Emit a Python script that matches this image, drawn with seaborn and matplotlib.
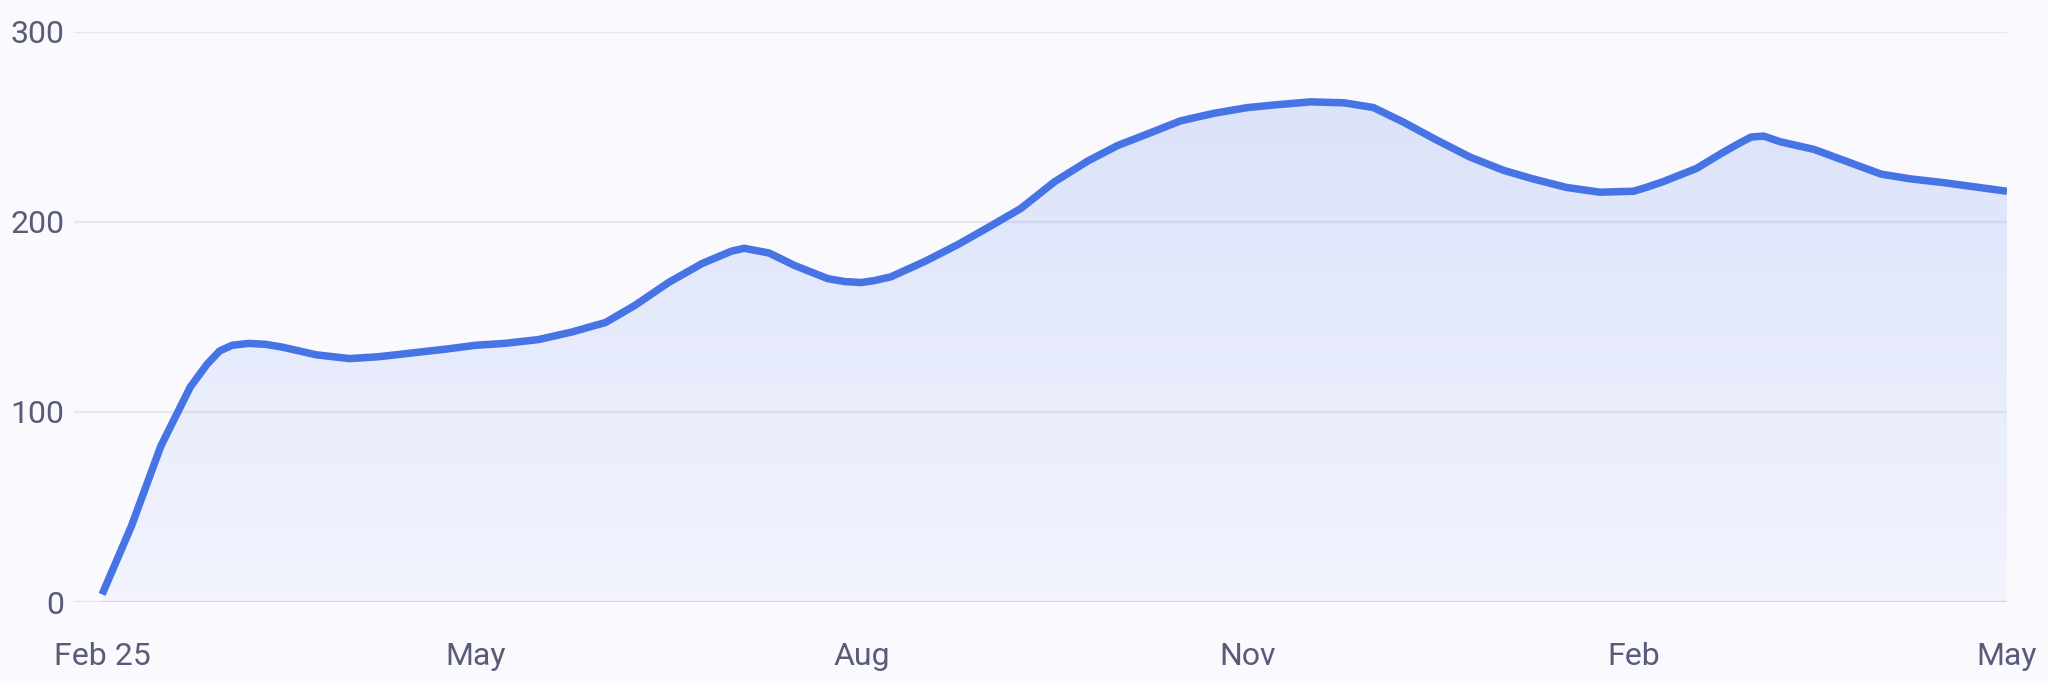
import numpy as np
import pandas as pd
import seaborn as sns
import matplotlib.pyplot as plt
import matplotlib.dates as mdates
from matplotlib.colors import LinearSegmentedColormap

# values
dates = [
    "2025-02-01", "2025-02-08", "2025-02-15", "2025-02-22", "2025-02-26", "2025-03-01",
    "2025-03-04", "2025-03-08", "2025-03-12", "2025-03-16", "2025-03-24", "2025-04-01",
    "2025-04-08", "2025-04-16", "2025-04-24", "2025-05-01", "2025-05-08", "2025-05-16",
    "2025-05-24", "2025-06-01", "2025-06-08", "2025-06-16", "2025-06-24",
    "2025-07-01", "2025-07-04", "2025-07-10", "2025-07-16", "2025-07-24", "2025-07-28",
    "2025-08-01", "2025-08-04", "2025-08-08", "2025-08-16", "2025-08-24", "2025-09-01",
    "2025-09-08", "2025-09-16", "2025-09-24", "2025-10-01", "2025-10-08", "2025-10-16",
    "2025-10-24", "2025-11-01", "2025-11-08", "2025-11-16", "2025-11-24", "2025-12-01",
    "2025-12-08", "2025-12-16", "2025-12-24", "2026-01-01", "2026-01-08", "2026-01-16",
    "2026-01-24", "2026-02-01", "2026-02-04", "2026-02-08", "2026-02-12", "2026-02-16",
    "2026-02-22", "2026-02-26", "2026-03-01", "2026-03-04", "2026-03-08", "2026-03-16",
    "2026-03-24", "2026-04-01", "2026-04-08", "2026-04-16", "2026-05-01",
]
values = [
    4, 40, 82, 113, 125, 132,
    135, 136, 135.5, 134, 130, 128,
    129, 131, 133, 135, 136, 138,
    142, 147, 156, 168, 178,
    184.5, 186, 183.5, 177, 170, 168.5,
    168, 169, 171, 179, 188, 198,
    207, 221, 232, 240, 246, 253,
    257, 260, 261.5, 263, 262.5, 260,
    252.5, 243, 234, 227, 222.5, 218,
    215.5, 216, 218, 221, 224.5, 228,
    236, 241, 244.5, 245, 242, 238,
    231.5, 225, 222.5, 220.5, 216,
]
tick_dates = ["2025-02-01", "2025-05-01", "2025-08-01", "2025-11-01", "2026-02-01", "2026-05-01"]
tick_labels = ["Feb 25", "May", "Aug", "Nov", "Feb", "May"]
y_ticks = [0, 100, 200, 300]

df = pd.DataFrame({"date": pd.to_datetime(dates), "value": values})

sns.set_theme(style="white")
plt.rcParams["font.family"] = ["Roboto", "DejaVu Sans"]

bg = "#f9f9fe"
line_c = "#4774e4"
text_c = "#585c78"

fig = plt.figure(figsize=(20.48, 6.83), dpi=100, facecolor=bg)
ax = fig.add_axes([74 / 2048, 1 - 602 / 683, (2007 - 74) / 2048, (602 - 31.5) / 683])
ax.set_facecolor(bg)

# gradient area under the curve
poly = ax.fill_between(df["date"], df["value"], 0, color="none", lw=0)
x0 = mdates.date2num(df["date"].iloc[0])
x1 = mdates.date2num(df["date"].iloc[-1])
cmap = LinearSegmentedColormap.from_list(
    "fade", [(0.28, 0.455, 0.894, 0.04), (0.28, 0.455, 0.894, 0.17)]
)
grad = np.linspace(0, 1, 256).reshape(-1, 1)
im = ax.imshow(grad, extent=[x0, x1, 0, max(values)], origin="lower",
               aspect="auto", cmap=cmap, zorder=2, interpolation="bilinear")
im.set_clip_path(poly.get_paths()[0], transform=ax.transData)

sns.lineplot(data=df, x="date", y="value", color=line_c, lw=5.4, ax=ax, zorder=4,
             solid_capstyle="butt", solid_joinstyle="round")

ax.hlines(0, df["date"].iloc[0], df["date"].iloc[-1], color="#d3d4e0", lw=2.2, zorder=3)

ax.set_xlim(df["date"].iloc[0] - pd.Timedelta(days=6.7), df["date"].iloc[-1])
ax.set_ylim(0, 300)
ax.set_yticks(y_ticks)
ax.set_xticks(pd.to_datetime(tick_dates))
ax.set_xticklabels(tick_labels)
ax.yaxis.grid(True, color="#e6e6ef", lw=1.6, zorder=0)
ax.set_axisbelow(True)
ax.tick_params(axis="x", length=0, pad=29, labelsize=23, labelcolor=text_c)
ax.tick_params(axis="y", length=0, pad=7, labelsize=23, labelcolor=text_c)
ax.set_xlabel("")
ax.set_ylabel("")
for s in ax.spines.values():
    s.set_visible(False)

fig.savefig("out.png", dpi=100, facecolor=bg)
